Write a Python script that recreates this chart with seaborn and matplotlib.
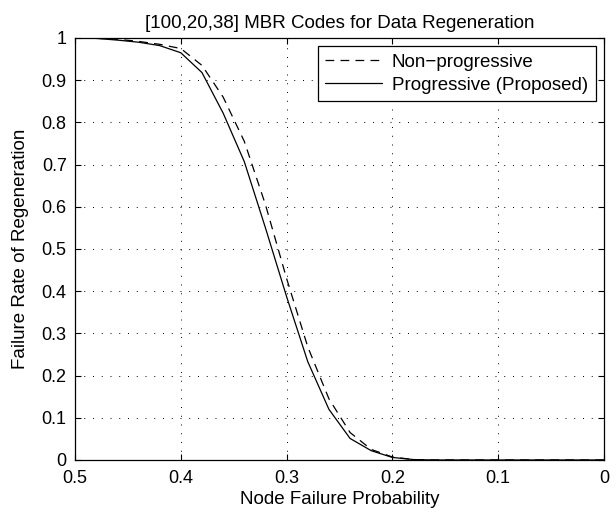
import pandas as pd
import numpy as np
import seaborn as sns
import matplotlib.pyplot as plt

# node failure probability (x axis runs from 0.5 down to 0)
p = [0.50, 0.48, 0.46, 0.44, 0.42, 0.40, 0.38, 0.36, 0.34, 0.32, 0.30,
     0.28, 0.26, 0.24, 0.22, 0.20, 0.18, 0.16, 0.14, 0.12, 0.10, 0.08,
     0.06, 0.04, 0.02, 0.00]
non_progressive = [1.0, 0.9995, 0.997, 0.992, 0.985, 0.975, 0.935, 0.86,
                   0.755, 0.605, 0.43, 0.268, 0.145, 0.065, 0.025, 0.007,
                   0.001, 0.0, 0.0, 0.0, 0.0, 0.0, 0.0, 0.0, 0.0, 0.0]
progressive = [1.0, 0.999, 0.995, 0.99, 0.982, 0.965, 0.918, 0.822,
               0.707, 0.55, 0.387, 0.233, 0.12, 0.051, 0.022, 0.006,
               0.001, 0.0, 0.0, 0.0, 0.0, 0.0, 0.0, 0.0, 0.0, 0.0]
series_names = ['Non\u2212progressive', 'Progressive (Proposed)']


def draw():
    sns.set_style('ticks')
    plt.rcParams['font.family'] = ['Liberation Sans', 'DejaVu Sans']
    plt.rcParams['font.size'] = 13
    plt.rcParams['text.color'] = 'black'
    plt.rcParams['axes.labelcolor'] = 'black'
    plt.rcParams['xtick.color'] = 'black'
    plt.rcParams['ytick.color'] = 'black'
    plt.rcParams['xtick.direction'] = 'in'
    plt.rcParams['ytick.direction'] = 'in'

    df = pd.DataFrame({
        'p': p * 2,
        'rate': non_progressive + progressive,
        'scheme': [series_names[0]] * len(p) + [series_names[1]] * len(p),
    })

    fig = plt.figure(figsize=(6.16, 5.12), dpi=100)
    ax = fig.add_axes([0.1218, 0.1016, 0.8587, 0.8242])

    sns.lineplot(data=df, x='p', y='rate', hue='scheme', style='scheme',
                 palette=['black', 'black'],
                 dashes={series_names[0]: (7, 5), series_names[1]: ''},
                 linewidth=0.9, ax=ax)

    ax.set_xlim(0.5, 0)
    ax.set_ylim(0, 1)
    ax.set_xticks(np.arange(0, 0.51, 0.1))
    ax.set_xticklabels(['0', '0.1', '0.2', '0.3', '0.4', '0.5'])
    ax.set_yticks(np.arange(0, 1.01, 0.1))
    ax.set_yticklabels(['0', '0.1', '0.2', '0.3', '0.4', '0.5', '0.6',
                        '0.7', '0.8', '0.9', '1'])
    ax.tick_params(top=True, right=True, length=4, width=0.8, labelsize=13)
    ax.tick_params(axis='y', pad=6)
    ax.tick_params(axis='x', pad=7)
    ax.grid(True, linestyle=(0, (1, 8)), color='black', linewidth=0.7)
    for s in ax.spines.values():
        s.set_linewidth(0.9)
        s.set_color('black')

    ax.set_xlabel('Node Failure Probability', fontsize=13.5, labelpad=3)
    ax.set_ylabel('Failure Rate of Regeneration', fontsize=13.5, labelpad=9)
    ax.set_title('[100,20,38] MBR Codes for Data Regeneration', fontsize=13.5,
                 pad=7, color='black')

    leg = ax.legend(loc='upper right', fontsize=13.5, frameon=True, fancybox=False,
                    borderaxespad=0.45, handlelength=3.0, handletextpad=0.55,
                    borderpad=0.4, labelspacing=0.3)
    leg.get_frame().set_edgecolor('black')
    leg.get_frame().set_linewidth(0.9)
    leg.get_frame().set_alpha(1)

    fig.savefig('out.png', dpi=100)


if __name__ == '__main__':
    draw()
